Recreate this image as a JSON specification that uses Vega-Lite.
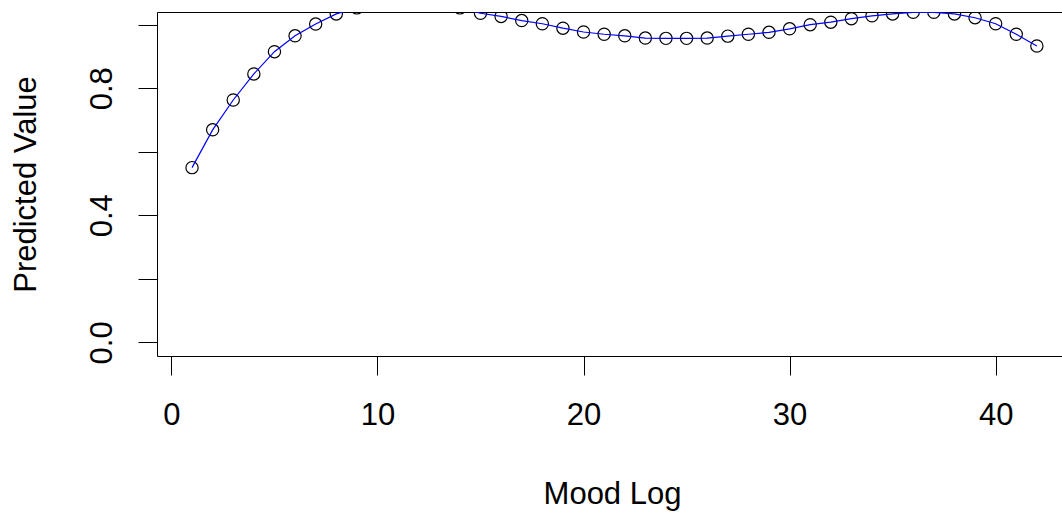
{
  "$schema": "https://vega.github.io/schema/vega-lite/v6.json",
  "width": 905,
  "height": 344,
  "autosize": "none",
  "padding": {"left": 157, "top": 12, "right": 0, "bottom": 158},
  "background": "white",
  "config": {"view": {"stroke": null}, "font": "Liberation Sans"},
  "data": {"values": [
    {"x": 1, "y": 0.550}, {"x": 2, "y": 0.669}, {"x": 3, "y": 0.763}, {"x": 4, "y": 0.845},
    {"x": 5, "y": 0.915}, {"x": 6, "y": 0.965}, {"x": 7, "y": 1.002}, {"x": 8, "y": 1.034},
    {"x": 9, "y": 1.053}, {"x": 10, "y": 1.068}, {"x": 11, "y": 1.076}, {"x": 12, "y": 1.076},
    {"x": 13, "y": 1.068}, {"x": 14, "y": 1.053}, {"x": 15, "y": 1.036}, {"x": 16, "y": 1.026},
    {"x": 17, "y": 1.013}, {"x": 18, "y": 1.003}, {"x": 19, "y": 0.989}, {"x": 20, "y": 0.977},
    {"x": 21, "y": 0.970}, {"x": 22, "y": 0.965}, {"x": 23, "y": 0.958}, {"x": 24, "y": 0.957},
    {"x": 25, "y": 0.957}, {"x": 26, "y": 0.958}, {"x": 27, "y": 0.964}, {"x": 28, "y": 0.970},
    {"x": 29, "y": 0.976}, {"x": 30, "y": 0.987}, {"x": 31, "y": 1.000}, {"x": 32, "y": 1.008},
    {"x": 33, "y": 1.019}, {"x": 34, "y": 1.028}, {"x": 35, "y": 1.034}, {"x": 36, "y": 1.039},
    {"x": 37, "y": 1.039}, {"x": 38, "y": 1.034}, {"x": 39, "y": 1.022}, {"x": 40, "y": 1.003},
    {"x": 41, "y": 0.970}, {"x": 42, "y": 0.933}
  ]},
  "encoding": {
    "x": {
      "field": "x", "type": "quantitative",
      "scale": {"domain": [-0.7, 43.22], "nice": false, "zero": false},
      "axis": {
        "orient": "bottom",
        "values": [0, 10, 20, 30, 40],
        "grid": false,
        "tickSize": 19, "tickColor": "black", "tickWidth": 1,
        "domainColor": "black", "domainWidth": 1,
        "labelFontSize": 31, "labelColor": "black", "labelFont": "Liberation Sans",
        "labelBaseline": "alphabetic", "labelPadding": 49,
        "labelFlush": false, "labelOverlap": false,
        "title": "Mood Log", "titleFontSize": 31, "titleFontWeight": "normal",
        "titleColor": "black", "titleFont": "Liberation Sans",
        "titleX": 455, "titleY": 147, "titleBaseline": "alphabetic", "titleAlign": "center"
      }
    },
    "y": {
      "field": "y", "type": "quantitative",
      "scale": {"domain": [-0.043, 1.04], "nice": false, "zero": false},
      "axis": {
        "values": [0, 0.2, 0.4, 0.6, 0.8, 1.0],
        "labelExpr": "round(datum.value*10) % 4 == 0 ? format(datum.value, '.1f') : ''",
        "grid": false,
        "tickSize": 19, "tickColor": "black", "tickWidth": 1,
        "domainColor": "black", "domainWidth": 1,
        "labelFontSize": 31, "labelColor": "black", "labelFont": "Liberation Sans",
        "labelAngle": 270, "labelAlign": "center", "labelBaseline": "alphabetic",
        "labelPadding": 27, "labelFlush": false, "labelOverlap": false,
        "title": "Predicted Value", "titleFontSize": 31, "titleFontWeight": "normal",
        "titleColor": "black", "titleFont": "Liberation Sans",
        "titleX": -122, "titleY": 172, "titleAngle": 270,
        "titleBaseline": "alphabetic", "titleAlign": "center"
      }
    }
  },
  "layer": [
    {
      "mark": {"type": "point", "shape": "circle", "filled": false, "color": "black",
               "strokeWidth": 1.2, "size": 150, "opacity": 1, "clip": true},
      "encoding": {
        "x": {
          "field": "x", "type": "quantitative",
          "scale": {"domain": [-0.7, 43.22], "nice": false, "zero": false},
          "axis": {"orient": "top", "ticks": false, "labels": false, "grid": false,
                   "domainColor": "black", "domainWidth": 1, "title": null}
        }
      }
    },
    {
      "mark": {"type": "line", "color": "#0000ff", "strokeWidth": 1.2, "clip": true}
    }
  ],
  "resolve": {"axis": {"x": "independent"}}
}
